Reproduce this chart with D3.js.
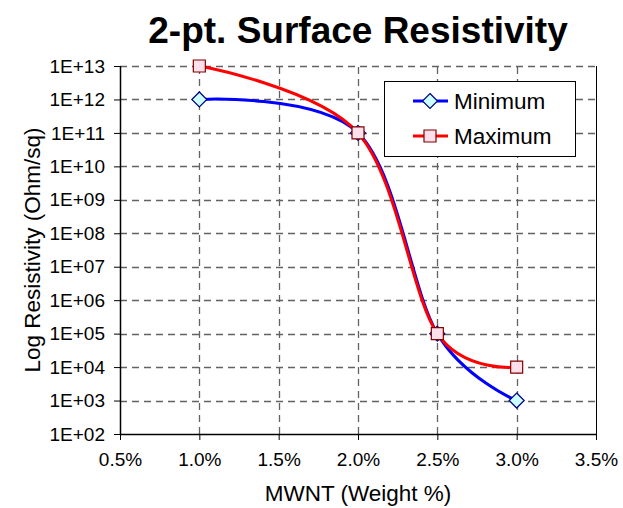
<!DOCTYPE html>
<html>
<head>
<meta charset="utf-8">
<script src="https://cdn.jsdelivr.net/npm/d3@7"></script>
<style>
  html, body { margin: 0; padding: 0; background: #fff; }
  svg { display: block; font-family: Arial, "Liberation Sans", sans-serif; }
</style>
</head>
<body>
<svg id="chart" width="623" height="508"></svg>
<script>
// MWNT loading (weight %) and measured 2-point surface resistivity (Ohm/sq)
const weightPct = [1.0, 2.0, 2.5, 3.0];
const minimum   = [1e12, 1e11, 1e5, 1e3];
const maximum   = [1e13, 1e11, 1e5, 1e4];
const xTicks    = [0.5, 1.0, 1.5, 2.0, 2.5, 3.0, 3.5];
const yExponents = [2, 3, 4, 5, 6, 7, 8, 9, 10, 11, 12, 13];
const seriesNames = ["Minimum", "Maximum"];

const svg = d3.select("#chart");
const margin = { left: 120, right: 27, top: 66, bottom: 74 };
const W = 623, H = 508;
const x0 = margin.left, x1 = W - margin.right;
const y0 = H - margin.bottom, y1 = margin.top;

const x = d3.scaleLinear().domain([0.5, 3.5]).range([x0, x1]);
const y = d3.scaleLog().domain([1e2, 1e13]).range([y0, y1]);
const yTicks = yExponents.map(e => Math.pow(10, e));
const fmtY = v => { const e = Math.round(Math.log10(v)); return "1E+" + (e < 10 ? "0" + e : e); };
const fmtX = v => v.toFixed(1) + "%";

// Title
svg.append("text")
  .attr("x", (x0 + x1) / 2).attr("y", 43)
  .attr("text-anchor", "middle")
  .attr("font-size", 37).attr("font-weight", "bold")
  .text("2-pt. Surface Resistivity");

// Dashed grid
const grid = svg.append("g")
  .attr("stroke", "#626262").attr("stroke-width", 1.3)
  .attr("stroke-dasharray", "7,5").attr("fill", "none");
grid.selectAll("line.h").data(yTicks.filter(v => v > 1e2)).join("line")
  .attr("class", "h")
  .attr("x1", x0).attr("x2", x1)
  .attr("y1", d => Math.round(y(d)) + 0.5).attr("y2", d => Math.round(y(d)) + 0.5);
grid.selectAll("line.v").data(xTicks.filter(v => v > 0.5 && v < 3.5)).join("line")
  .attr("class", "v")
  .attr("y1", y0).attr("y2", y1)
  .attr("x1", d => Math.round(x(d)) + 0.5).attr("x2", d => Math.round(x(d)) + 0.5);

// Right border of the plot area
svg.append("line")
  .attr("x1", x1 + 0.5).attr("x2", x1 + 0.5).attr("y1", y1).attr("y2", y0)
  .attr("stroke", "#000").attr("stroke-width", 1);

// Axes
const xAxis = d3.axisBottom(x).tickValues(xTicks).tickFormat(fmtX).tickSize(6).tickPadding(13);
const yAxis = d3.axisLeft(y).tickValues(yTicks).tickFormat(fmtY).tickSize(6).tickPadding(9);

const gx = svg.append("g").attr("transform", `translate(0,${y0})`).call(xAxis);
const gy = svg.append("g").attr("transform", `translate(${x0},0)`).call(yAxis);
[gx, gy].forEach(g => {
  g.select(".domain").attr("stroke", "#000").attr("stroke-width", 1.5);
  g.selectAll(".tick line").attr("stroke", "#000").attr("stroke-width", 1);
  g.selectAll(".tick text").attr("font-size", 19).attr("fill", "#000")
    .attr("font-family", "Arial, 'Liberation Sans', sans-serif");
});
gx.select(".domain").attr("d", `M${x0},0.5H${x1}`);
gy.select(".domain").attr("d", `M0.5,${y0}V${y1}`);

// Axis titles
svg.append("text")
  .attr("x", (x0 + x1) / 2).attr("y", 501)
  .attr("text-anchor", "middle").attr("font-size", 22.5)
  .text("MWNT (Weight %)");
svg.append("text")
  .attr("transform", `translate(40,${(y0 + y1) / 2}) rotate(-90)`)
  .attr("text-anchor", "middle").attr("font-size", 22.5)
  .text("Log Resistivity (Ohm/sq)");

// Series
const line = d3.line()
  .x(d => x(d[0])).y(d => y(d[1]))
  .curve(d3.curveCatmullRom.alpha(0));

const styles = [
  { stroke: "#0000ff", fill: "#ccffff", edge: "#000080", shape: "diamond" },
  { stroke: "#ff0000", fill: "#ffe0ea", edge: "#800000", shape: "square" }
];
const diamond = s => `M0,${-s}L${s},0L0,${s}L${-s},0Z`;
const square = s => `M${-s},${-s}H${s}V${s}H${-s}Z`;
const markerPath = shape => shape === "diamond" ? diamond(7.5) : square(6);

[minimum, maximum].forEach((vals, i) => {
  const pts = weightPct.map((w, j) => [w, vals[j]]);
  const st = styles[i];
  svg.append("path").datum(pts)
    .attr("d", line).attr("fill", "none")
    .attr("stroke", st.stroke).attr("stroke-width", 3)
    .attr("stroke-linejoin", "round");
  svg.append("g").selectAll("path").data(pts).join("path")
    .attr("transform", d => `translate(${x(d[0])},${y(d[1])})`)
    .attr("d", markerPath(st.shape))
    .attr("fill", st.fill).attr("stroke", st.edge).attr("stroke-width", 1.2);
});

// Legend
const lg = svg.append("g");
lg.append("rect")
  .attr("x", 384.5).attr("y", 81.5).attr("width", 191).attr("height", 75)
  .attr("fill", "#fff").attr("stroke", "#000").attr("stroke-width", 1);
seriesNames.forEach((name, i) => {
  const st = styles[i];
  const cy = 101 + i * 35;
  lg.append("line").attr("x1", 413).attr("x2", 448).attr("y1", cy).attr("y2", cy)
    .attr("stroke", st.stroke).attr("stroke-width", 3);
  lg.append("path").attr("transform", `translate(430,${cy})`)
    .attr("d", markerPath(st.shape))
    .attr("fill", st.fill).attr("stroke", st.edge).attr("stroke-width", 1.2);
  lg.append("text").attr("x", 454).attr("y", cy + 8)
    .attr("font-size", 22.5).text(name);
});
</script>
</body>
</html>
